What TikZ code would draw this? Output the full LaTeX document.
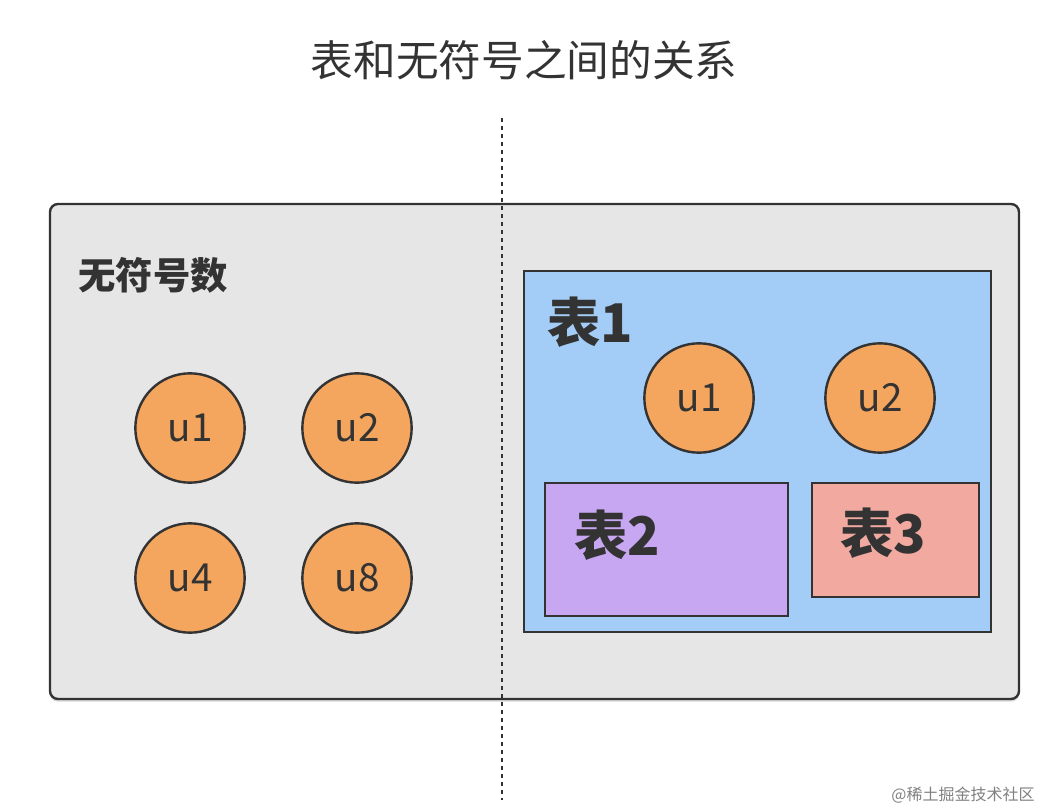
\documentclass[tikz,border=0pt]{standalone}
\usepackage{fontspec}
\setmainfont{Noto Sans CJK SC}
\usetikzlibrary{shadows}
\definecolor{bgc}{HTML}{E6E6E6}
\definecolor{edge}{HTML}{333333}
\definecolor{orng}{HTML}{F4A65E}
\definecolor{blu}{HTML}{A3CDF7}
\definecolor{purp}{HTML}{C7A6F2}
\definecolor{pnk}{HTML}{F2A9A0}
\begin{document}
\begin{tikzpicture}[x=0.75pt,y=-0.75pt,
  circ/.style={circle,draw=edge,line width=1.8pt,fill=orng,minimum size=82pt,inner sep=0pt,text=edge,font=\fontsize{29}{32}\selectfont},
  box/.style={draw=edge,line width=1.8pt},
  big/.style={text=edge,font=\fontsize{40}{44}\selectfont\bfseries}]
\useasboundingbox (0,0) rectangle (1048,812);
\node[text=edge,font=\fontsize{32}{36}\selectfont] (title) at (524,60) {表和无符号之间的关系};
\draw[box,rounded corners=6pt,fill=bgc,drop shadow={shadow xshift=0pt,shadow yshift=-2pt,opacity=0.3}] (50,204) rectangle (1019,699);
\node[text=edge,font=\fontsize{28}{32}\selectfont\bfseries] (uns) at (153,275) {无符号数};
\node[circ] (a1) at (190,428) {u1};
\node[circ] (a2) at (357,428) {u2};
\node[circ] (a4) at (190,578) {u4};
\node[circ] (a8) at (357,578) {u8};
\draw[box,fill=blu] (524,271) rectangle (991,632);
\node[big] (t1) at (590,322) {表1};
\node[circ] (b1) at (699,398) {u1};
\node[circ] (b2) at (880,398) {u2};
\draw[box,fill=purp] (545,483) rectangle (788,616);
\node[big] (t2) at (617,535) {表2};
\draw[box,fill=pnk] (812,483) rectangle (979,597);
\node[big] (t3) at (883,533) {表3};
\coordinate (dtop) at (502,118);
\coordinate (dbot) at (502,800);
\draw[edge,line width=2.2pt,dash pattern=on 3pt off 3pt] (dtop) -- (dbot);
\node[text=gray,font=\fontsize{12}{14}\selectfont] (wm) at (963,795) {@稀土掘金技术社区};
\end{tikzpicture}
\end{document}
